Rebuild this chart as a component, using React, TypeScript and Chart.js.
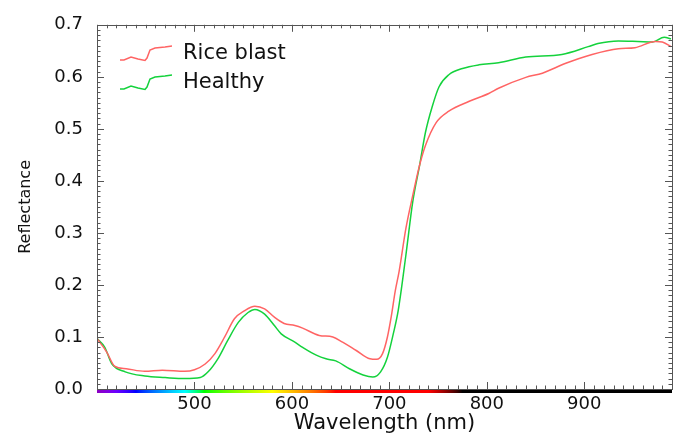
import { useEffect, useRef } from "react";
import { Chart, registerables } from "chart.js";

Chart.register(...registerables);

// ---- data ----
const riceBlastWavelength = [400, 410, 418, 430, 449, 467, 490, 500, 511, 521, 531, 541, 551, 562, 572, 582, 592, 603, 611, 628, 642, 652, 666, 680, 687, 693, 698, 702, 706, 710, 717, 724, 731, 737, 748, 761, 782, 802, 812, 840, 857, 881, 908, 935, 952, 973, 980, 989];
const riceBlastReflectance = [0.097, 0.071, 0.044, 0.039, 0.034, 0.036, 0.034, 0.037, 0.048, 0.068, 0.1, 0.135, 0.15, 0.159, 0.154, 0.138, 0.126, 0.122, 0.117, 0.103, 0.1, 0.09, 0.074, 0.058, 0.057, 0.068, 0.1, 0.14, 0.188, 0.226, 0.309, 0.372, 0.43, 0.468, 0.512, 0.534, 0.553, 0.568, 0.578, 0.599, 0.607, 0.626, 0.643, 0.654, 0.656, 0.668, 0.667, 0.658];

const healthyWavelength = [400, 408, 415, 429, 449, 470, 490, 506, 514, 524, 534, 545, 555, 562, 572, 582, 589, 603, 611, 625, 635, 645, 659, 673, 683, 691, 698, 704, 709, 717, 724, 731, 737, 744, 751, 761, 775, 792, 812, 840, 877, 904, 914, 935, 955, 970, 982, 989];
const healthyReflectance = [0.097, 0.08, 0.049, 0.033, 0.025, 0.022, 0.02, 0.022, 0.033, 0.058, 0.093, 0.128, 0.147, 0.153, 0.144, 0.122, 0.106, 0.09, 0.08, 0.065, 0.058, 0.054, 0.039, 0.027, 0.023, 0.033, 0.061, 0.106, 0.15, 0.258, 0.36, 0.43, 0.493, 0.543, 0.581, 0.604, 0.616, 0.623, 0.627, 0.638, 0.643, 0.658, 0.664, 0.669, 0.668, 0.667, 0.676, 0.673];

const seriesLabels = ["Rice blast", "Healthy"];
const xTickValues = [500, 600, 700, 800, 900];
const yTickValues = [0, 0.1, 0.2, 0.3, 0.4, 0.5, 0.6, 0.7];
const X_MIN = 400;
const X_MAX = 990;
const Y_MIN = 0;
const Y_MAX = 0.7;

const FONT = "'DejaVu Sans', 'Open Sans', sans-serif";
const RED = "rgb(255, 100, 100)";
const GREEN = "rgb(20, 210, 60)";

function wavelengthToRgb(w: number): string {
  let r = 0, g = 0, b = 0;
  if (w >= 380 && w < 440) { r = -(w - 440) / 60; b = 1; }
  else if (w < 490) { g = (w - 440) / 50; b = 1; }
  else if (w < 510) { g = 1; b = -(w - 510) / 20; }
  else if (w < 580) { r = (w - 510) / 70; g = 1; }
  else if (w < 645) { r = 1; g = -(w - 645) / 65; }
  else if (w <= 780) { r = 1; }
  let f = 0;
  if (w >= 380 && w < 420) f = 0.4 + 0.6 * (w - 380) / 40;
  else if (w < 740) f = 1;
  else if (w <= 775) f = 1 - (w - 740) / 35;
  const c = (v: number) => Math.round(255 * Math.pow(Math.max(0, v * f), 0.8));
  return `rgb(${c(r)},${c(g)},${c(b)})`;
}

const framePlugin = {
  id: "frameTicks",
  afterDraw(chart: any) {
    const { ctx, chartArea, scales } = chart;
    const { left, right, top, bottom } = chartArea;
    const x = scales.x;
    const y = scales.y;
    ctx.save();
    // spectrum bar
    const x0 = x.getPixelForValue(X_MIN);
    const x1 = x.getPixelForValue(X_MAX);
    const grad = ctx.createLinearGradient(x0, 0, x1, 0);
    for (let w = X_MIN; w <= X_MAX; w += 5) {
      grad.addColorStop((w - X_MIN) / (X_MAX - X_MIN), wavelengthToRgb(w));
    }
    ctx.fillStyle = grad;
    ctx.fillRect(left, bottom + 0.5, right - left, 3.5);

    // frame
    ctx.strokeStyle = "#555";
    ctx.lineWidth = 1;
    ctx.strokeRect(Math.round(left) + 0.5, Math.round(top) + 0.5, Math.round(right - left), Math.round(bottom - top));

    ctx.beginPath();
    for (let w = X_MIN; w <= X_MAX; w += 10) {
      const px = Math.round(x.getPixelForValue(w)) + 0.5;
      const len = w % 100 === 0 ? 7 : 3.5;
      ctx.moveTo(px, bottom);
      ctx.lineTo(px, bottom - len);
      ctx.moveTo(px, top);
      ctx.lineTo(px, top + len);
    }
    for (let i = 0; i <= 70; i++) {
      const v = i / 100;
      const py = Math.round(y.getPixelForValue(v)) + 0.5;
      const len = i % 10 === 0 ? 7 : 3.5;
      ctx.moveTo(left, py);
      ctx.lineTo(left + len, py);
      ctx.moveTo(right, py);
      ctx.lineTo(right - len, py);
    }
    ctx.stroke();
    ctx.restore();
  },
  afterDatasetsDraw(chart: any) {
    const { ctx } = chart;
    const sample = [[0, 1], [4, 1], [11, -2], [18, 0], [25, 1.5], [27, -1], [30, -9], [35, -11], [45, -12], [52, -13]];
    ctx.save();
    chart.data.datasets.forEach((ds: any, i: number) => {
      const baseY = 59 + i * 29;
      ctx.strokeStyle = ds.borderColor;
      ctx.lineWidth = 1.5;
      ctx.beginPath();
      sample.forEach(([dx, dy], k) => {
        if (k === 0) ctx.moveTo(120 + dx, baseY + dy);
        else ctx.lineTo(120 + dx, baseY + dy);
      });
      ctx.stroke();
      ctx.fillStyle = "#111";
      ctx.font = `21px ${FONT}`;
      ctx.textBaseline = "alphabetic";
      ctx.textAlign = "left";
      ctx.fillText(ds.label, 183, baseY);
    });
    ctx.restore();
  },
};

export default function App() {
  const canvasRef = useRef<HTMLCanvasElement | null>(null);

  useEffect(() => {
    document.body.style.margin = "0";
    const canvas = canvasRef.current;
    if (!canvas) return;
    const chart = new Chart(canvas, {
      type: "line",
      data: {
        datasets: [
          {
            label: seriesLabels[0],
            data: riceBlastWavelength.map((w, i) => ({ x: w, y: riceBlastReflectance[i] })),
            borderColor: RED,
            borderWidth: 1.5,
            pointRadius: 0,
            cubicInterpolationMode: "monotone",
            fill: false,
          },
          {
            label: seriesLabels[1],
            data: healthyWavelength.map((w, i) => ({ x: w, y: healthyReflectance[i] })),
            borderColor: GREEN,
            borderWidth: 1.5,
            pointRadius: 0,
            cubicInterpolationMode: "monotone",
            fill: false,
          },
        ],
      },
      options: {
        animation: false,
        responsive: false,
        devicePixelRatio: 1,
        layout: { padding: { top: 21, right: 3, left: 0, bottom: 0 } },
        plugins: { legend: { display: false }, tooltip: { enabled: false } },
        scales: {
          x: {
            type: "linear",
            min: X_MIN,
            max: X_MAX,
            grid: { display: false, drawTicks: false },
            border: { display: false },
            afterBuildTicks: (scale: any) => {
              scale.ticks = xTickValues.map((v) => ({ value: v }));
            },
            afterFit: (scale: any) => {
              scale.height = 47;
            },
            ticks: {
              autoSkip: false,
              maxRotation: 0,
              padding: 5,
              color: "#111",
              font: { family: FONT, size: 18 },
              callback: (v: any) => String(v),
            },
            title: {
              display: true,
              text: "Wavelength (nm)",
              color: "#111",
              font: { family: FONT, size: 21 },
              padding: { top: 0, bottom: 0 },
            },
          },
          y: {
            type: "linear",
            min: Y_MIN,
            max: Y_MAX,
            grid: { display: false, drawTicks: false },
            border: { display: false },
            afterBuildTicks: (scale: any) => {
              scale.ticks = yTickValues.map((v) => ({ value: v }));
            },
            afterFit: (scale: any) => {
              scale.width = 97;
            },
            ticks: {
              autoSkip: false,
              padding: 14,
              color: "#111",
              font: { family: FONT, size: 18 },
              callback: (v: any) => Number(v).toFixed(1),
            },
            title: {
              display: true,
              text: "Reflectance",
              color: "#111",
              font: { family: FONT, size: 16 },
              padding: { top: 16, bottom: 16 },
            },
          },
        },
      },
      plugins: [framePlugin],
    } as any);
    return () => chart.destroy();
  }, []);

  return (
    <div style={{ width: 675, height: 436 }}>
      <canvas ref={canvasRef} width={675} height={436} style={{ display: "block" }} />
    </div>
  );
}
